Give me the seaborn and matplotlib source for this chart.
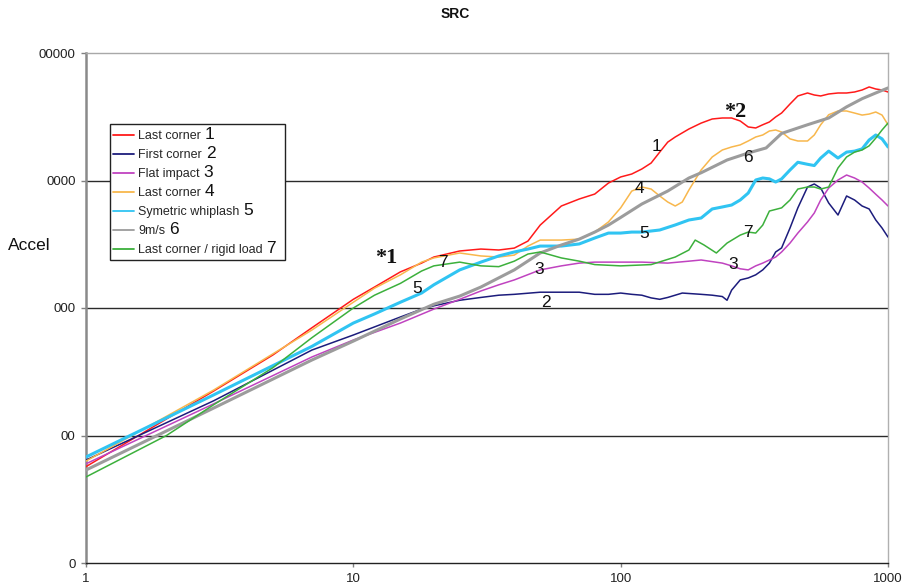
import matplotlib
matplotlib.use("Agg")
import matplotlib.pyplot as plt
from matplotlib.lines import Line2D
from matplotlib.patches import Rectangle
from matplotlib.ticker import FixedLocator, NullLocator, FixedFormatter
import pandas as pd
import seaborn as sns

# ---- data -------------------------------------------------------------
series_names = ["Last corner", "First corner", "Flat impact", "Last corner",
                "Symetric whiplash", "9m/s", "Last corner / rigid load"]
series_ids = ["1", "2", "3", "4", "5", "6", "7"]

freq_1 = [1, 3, 5, 7, 10, 12, 15, 18, 20, 25, 30, 35, 40, 45, 50, 60, 70, 80, 90, 100,
          110, 120, 130, 140, 150, 160, 180, 200, 220, 240, 260, 280, 300, 320, 340,
          360, 380, 400, 430, 460, 500, 530, 560, 600, 650, 700, 750, 800, 850, 900, 950, 1000]
accel_1 = [5.7, 22.3, 42.8, 70, 117, 146, 192, 225, 251, 280, 290, 285, 295, 335, 447, 631,
           716, 783, 955, 1066, 1124, 1231, 1371, 1670, 2000, 2194, 2535, 2820, 3037, 3092,
           3092, 2930, 2630, 2582, 2737, 2877, 3150, 3384, 3982, 4603, 4856, 4684, 4603,
           4770, 4856, 4856, 4945, 5128, 5415, 5220, 5128, 4945]

freq_2 = [1, 3, 7, 10, 15, 18, 20, 25, 30, 35, 40, 50, 60, 70, 80, 90, 100, 110, 120, 130,
          140, 150, 170, 200, 220, 240, 250, 260, 280, 300, 320, 340, 360, 380, 400, 430,
          460, 500, 530, 560, 600, 650, 700, 750, 800, 850, 900, 950, 1000]
accel_2 = [6.42, 18.7, 46.8, 61.4, 85, 98, 104, 115, 121, 126, 128, 133, 133, 133, 128, 128,
           131, 128, 126, 120, 117, 121, 131, 128, 126, 123, 115, 138, 166, 172, 182, 199,
           225, 275, 296, 424, 610, 889, 939, 873, 666, 536, 756, 703, 631, 598, 490, 424, 360]

freq_3 = [1, 3, 7, 10, 15, 20, 25, 30, 35, 40, 50, 60, 70, 80, 100, 120, 150, 180, 200, 240,
          260, 280, 300, 320, 340, 360, 380, 400, 430, 460, 500, 530, 560, 600, 650, 700,
          750, 800, 850, 900, 950, 1000]
accel_3 = [6.0, 17.7, 41.3, 56.1, 76.2, 98, 117, 136, 152, 166, 199, 214, 225, 229, 229, 229,
           225, 233, 238, 225, 214, 203, 199, 214, 225, 238, 251, 275, 323, 387, 473, 556,
           703, 873, 1009, 1104, 1046, 973, 873, 780, 703, 631]

freq_4 = [1, 3, 7, 10, 12, 15, 18, 20, 25, 30, 35, 40, 45, 50, 60, 70, 80, 90, 100, 110,
          120, 130, 140, 150, 160, 170, 180, 200, 220, 240, 260, 280, 300, 320, 340, 360,
          380, 400, 430, 460, 500, 530, 560, 600, 650, 700, 750, 800, 850, 900, 950, 1000]
accel_4 = [6.3, 22.7, 67.2, 111, 143, 182, 229, 247, 270, 256, 251, 260, 306, 341, 341, 347,
           394, 473, 610, 826, 889, 857, 756, 678, 631, 678, 842, 1209, 1529, 1735, 1832,
           1902, 2041, 2194, 2275, 2445, 2490, 2400, 2120, 2041, 2041, 2275, 2737, 3280,
           3509, 3509, 3380, 3260, 3320, 3445, 3260, 2737]

freq_5 = [1, 3, 5, 7, 10, 12, 15, 18, 20, 25, 30, 35, 40, 45, 50, 60, 70, 80, 90, 100, 110,
          120, 140, 160, 180, 200, 220, 240, 260, 280, 300, 320, 340, 360, 380, 400, 430,
          460, 500, 530, 560, 600, 650, 700, 750, 800, 850, 900, 950, 1000]
accel_5 = [6.78, 20.8, 35.3, 50, 76.2, 89.8, 111, 131, 152, 199, 229, 256, 275, 290, 306, 306,
           318, 354, 387, 387, 394, 394, 409, 448, 490, 508, 598, 620, 642, 703, 797, 1009,
           1046, 1030, 973, 1030, 1209, 1390, 1340, 1310, 1500, 1700, 1500, 1670, 1700,
           1770, 2078, 2275, 2120, 1832]

freq_6 = [1, 3, 7, 10, 15, 20, 25, 30, 40, 50, 60, 70, 80, 90, 100, 120, 150, 180, 200, 250,
          300, 350, 400, 500, 600, 700, 800, 900, 1000]
accel_6 = [5.36, 16.4, 39.1, 55, 82, 107, 124, 146, 199, 270, 312, 347, 394, 447, 513, 654,
           827, 1046, 1150, 1448, 1643, 1800, 2340, 2737, 3092, 3780, 4380, 4860, 5320]

freq_7 = [1, 2, 3, 5, 7, 10, 12, 15, 18, 20, 25, 30, 35, 40, 45, 50, 60, 70, 80, 100, 130,
          160, 180, 190, 205, 228, 250, 280, 300, 320, 340, 360, 400, 430, 460, 500, 530,
          560, 600, 650, 700, 750, 800, 850, 900, 950, 1000]
accel_7 = [4.73, 10.0, 17.4, 34, 58.5, 100, 126, 156, 195, 214, 229, 214, 211, 233, 265, 275,
           247, 233, 219, 214, 219, 251, 285, 341, 312, 270, 323, 373, 394, 387, 447, 576,
           610, 703, 857, 889, 889, 857, 889, 1254, 1529, 1670, 1735, 1870, 2150, 2490, 2820]

y_ticks = [1, 10, 100, 1000, 10000]
y_tick_labels = ["0", "00", "000", "0000", "00000"]
x_ticks = [1, 10, 100, 1000]
x_tick_labels = ["1", "10", "100", "1000"]

# curve labels (id, freq, accel) and footnote markers
curve_labels = [("1", 136, 1832), ("2", 52.6, 111), ("3", 49.5, 202), ("3", 263, 221),
                ("4", 118, 873), ("5", 17.3, 143), ("5", 122, 387), ("6", 300, 1528),
                ("7", 21.7, 229), ("7", 300, 394)]
markers = [("*1", 13.3, 247), ("*2", 268, 3446)]

# ---- styling ----------------------------------------------------------
colors = ["#ff1a1a", "#1c1c7c", "#c043c0", "#f8b74c", "#30c4f2", "#9c9c9c", "#3cb03c"]
widths = [1.1, 1.1, 1.1, 1.1, 2.2, 2.2, 1.1]

frames = []
all_x = [freq_1, freq_2, freq_3, freq_4, freq_5, freq_6, freq_7]
all_y = [accel_1, accel_2, accel_3, accel_4, accel_5, accel_6, accel_7]
for sid, xs, ys in zip(series_ids, all_x, all_y):
    frames.append(pd.DataFrame({"freq": xs, "accel": ys, "series": sid}))
df = pd.concat(frames, ignore_index=True)

sns.set_theme(style="white")
plt.rcParams["font.family"] = ["Liberation Sans", "DejaVu Sans"]

W, H = 903, 587
fig = plt.figure(figsize=(W / 100, H / 100), dpi=100)
ax = fig.add_axes([86 / W, 1 - 563 / H, (888 - 86) / W, (563 - 53) / H])

ax.set_xscale("log")
ax.set_yscale("log")

# horizontal grid lines behind the curves
for yv in y_ticks[1:4]:
    ax.axhline(yv, color="#2a2a2a", lw=1.0, zorder=1)

sns.lineplot(data=df, x="freq", y="accel", hue="series", size="series",
             hue_order=series_ids, size_order=series_ids,
             palette=dict(zip(series_ids, colors)),
             sizes=dict(zip(series_ids, widths)),
             estimator=None, sort=True, legend=False, ax=ax, zorder=3)

ax.set_xlim(1, 1000)
ax.set_ylim(1, 10000)
ax.xaxis.set_major_locator(FixedLocator(x_ticks))
ax.xaxis.set_major_formatter(FixedFormatter(x_tick_labels))
ax.xaxis.set_minor_locator(NullLocator())
ax.yaxis.set_major_locator(FixedLocator(y_ticks))
ax.yaxis.set_major_formatter(FixedFormatter(y_tick_labels))
ax.yaxis.set_minor_locator(NullLocator())
ax.set_xlabel("")
ax.set_ylabel("")
ax.tick_params(axis="both", which="major", direction="out", length=3.5, width=1,
               color="#808080", labelsize=9.5, labelcolor="#222222", left=True, bottom=True)
ax.tick_params(axis="y", pad=4)
ax.tick_params(axis="x", pad=4.5, length=3)

for side, col, lw in [("left", "#8a8a8a", 1.8), ("bottom", "#222222", 1.0),
                      ("top", "#a8a8a8", 1.0), ("right", "#b0b0b0", 1.0)]:
    ax.spines[side].set_visible(True)
    ax.spines[side].set_color(col)
    ax.spines[side].set_linewidth(lw)

# title and axis caption
fig.text(455 / W, 1 - 14 / H, "SRC", ha="center", va="center", fontsize=10,
         fontweight="bold", color="#111111")
fig.text(8 / W, 1 - 245 / H, "Accel", ha="left", va="center", fontsize=12.5, color="#111111")

# numbers next to curves
for txt, xv, yv in curve_labels:
    ax.text(xv, yv, txt, ha="center", va="center", fontsize=12.5, color="#111111", zorder=5)
for txt, xv, yv in markers:
    ax.text(xv, yv, txt, ha="center", va="center", fontsize=16, fontweight="bold",
            family=["Liberation Serif", "DejaVu Serif"], color="#111111", zorder=5)

# legend with a fixed-size box around it
handles = [Line2D([0], [0], color=c, lw=1.3) for c in colors]
leg = ax.legend(handles, series_names, loc="upper left",
                bbox_to_anchor=(113 / W, 1 - 130 / H), bbox_transform=fig.transFigure,
                frameon=False, fontsize=9, handlelength=1.7, handletextpad=0.3,
                labelspacing=0.565, borderpad=0, borderaxespad=0)
leg.set_zorder(10)
ax.add_patch(Rectangle((110 / W, 1 - 260 / H), 175 / W, 136 / H,
                       transform=fig.transFigure, facecolor="white",
                       edgecolor="#222222", lw=1.0, zorder=9, clip_on=False))

fig.canvas.draw()
renderer = fig.canvas.get_renderer()
for t, sid in zip(leg.get_texts(), series_ids):
    bb = t.get_window_extent(renderer)
    _, _, lp_d = renderer.get_text_width_height_descent("lp", t.get_fontproperties(),
                                                        ismath=False)
    fig.text((bb.x1 + 4) / W, (bb.y0 + lp_d) / H, sid, ha="left", va="baseline",
             fontsize=12.5, color="#111111", zorder=11)

fig.savefig("out.png", dpi=100, facecolor="white")
